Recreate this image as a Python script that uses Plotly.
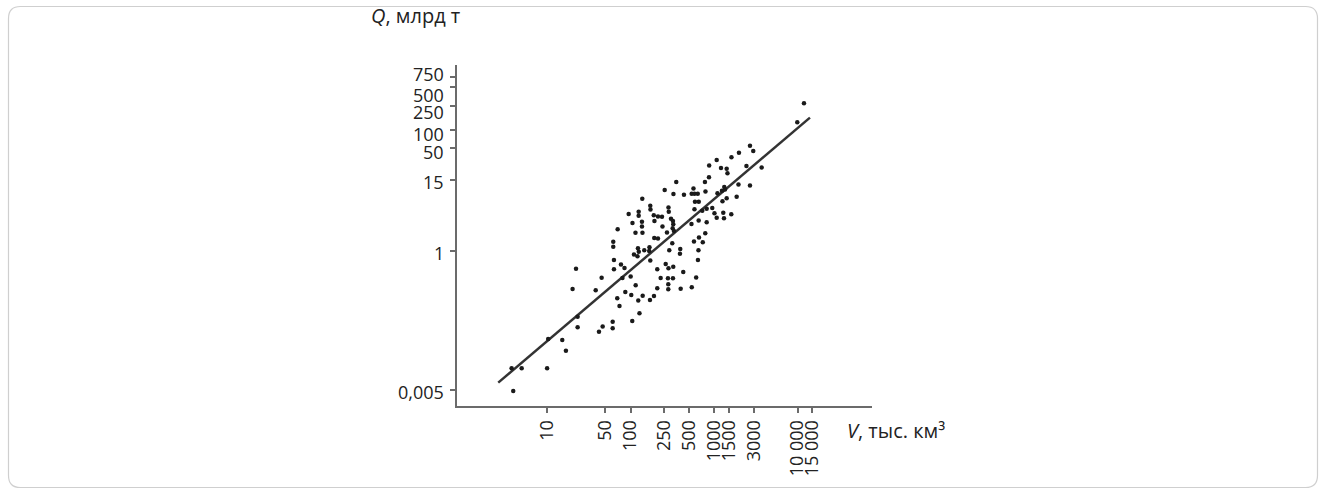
import math
import plotly.graph_objects as go

# Data (V, thousand km^3; Q, billion t)
volume_v = [3.93, 3.76, 4.96, 10.0, 10.3, 15.2, 16.8, 23.2, 23.2, 22.2, 20.2, 38.2, 45.0, 41.8, 46.3,
            61.0, 61.0, 62.0, 62.0, 63.2, 63.2, 69.2, 73.6, 70.0, 76.7, 84.5, 100.2, 79.9, 86.4, 101.9,
            104.7, 127.7, 123.5, 139.5, 170.6, 190.5, 115.0, 94.8, 124.9, 124.9, 138.0, 172.0, 173.0,
            189.5, 212.7, 237.5, 255.9, 284.1, 286.5, 304.4, 321.6, 324.3, 105.3, 136.8, 136.8, 193.1,
            240.8, 318.9, 330.6, 272.6, 114.4, 138.7, 192.1, 212.7, 315.5, 122.5, 125.3, 168.3, 166.9,
            145.8, 109.7, 120.9, 290.5, 393.3, 390.1, 649.7, 172.0, 640.8, 208.6, 263.0, 284.1, 324.3,
            427.3, 229.1, 280.2, 321.6, 282.6, 609.8, 208.6, 282.6, 397.7, 540.2, 352.3, 326.1, 435.6,
            538.7, 582.0, 637.3, 566.1, 788.0, 590.1, 655.2, 582.0, 721.8, 814.7, 951.0, 1010, 1074,
            1313, 1288, 1606, 535.8, 653.4, 814.7, 783.7, 658.8, 574.0, 731.8, 872.8, 1209, 1414, 1446,
            2441, 3713, 868.0, 777.3, 1097, 1242, 1324, 1958, 2689, 1863, 1414, 1260, 1074, 1614, 1985,
            2689, 2945, 9908, 11920, 1350]
reserves_q = [0.0048, 0.0114, 0.0114, 0.0114, 0.0347, 0.0334, 0.0222, 0.0811, 0.0542, 0.504, 0.233,
              0.2215, 0.358, 0.0458, 0.0559, 0.0671, 0.0522, 1.41, 1.16, 0.702, 0.493, 0.1634, 0.122,
              2.26, 0.591, 0.518, 0.375, 0.354, 0.2077, 0.1853, 0.0689, 0.0923, 0.1502, 0.1797, 0.1532,
              0.1783, 0.268, 4.04, 4.41, 3.78, 7.21, 5.54, 4.80, 3.86, 3.67, 3.65, 10.08, 5.18, 4.41,
              3.37, 3.10, 2.73, 2.87, 3.00, 2.51, 3.10, 2.51, 2.35, 2.12, 2.00, 1.98, 1.98, 1.62, 1.59,
              1.33, 1.10, 0.963, 1.14, 0.989, 1.015, 0.865, 0.808, 1.015, 1.067, 0.889, 1.019, 0.689,
              0.702, 0.493, 0.603, 0.512, 0.544, 0.445, 0.354, 0.350, 0.350, 0.278, 0.361, 0.239, 0.230,
              0.235, 0.248, 13.66, 8.65, 8.43, 8.75, 8.75, 8.75, 10.67, 9.52, 6.43, 6.43, 4.83, 4.58,
              4.95, 5.08, 4.15, 3.51, 3.43, 4.25, 4.00, 2.76, 3.16, 2.95, 1.94, 1.65, 1.42, 1.38, 25.6,
              23.3, 22.6, 19.0, 25.1, 23.7, 16.3, 13.66, 8.89, 9.77, 11.29, 12.43, 11.96, 7.81, 7.35,
              6.58, 31.6, 35.0, 41.7, 54.2, 44.5, 132.6, 273, 10.27]

# Regression line end points
fit_v = [2.6, 14060]
fit_q = [0.0066, 158]

x_ticks = [10, 50, 100, 250, 500, 1000, 1500, 3000, 10000, 15000]
x_tick_text = ["10", "50", "100", "250", "500", "1000", "1500", "3000", "10\u00a0000", "15\u00a0000"]
y_ticks = [0.005, 1, 15, 50, 100, 250, 500, 750]
y_tick_text = ["0,005", "1", "15", "50", "100", "250", "500", "750"]
# small vertical nudges of the crowded y labels (px, + = up)
y_label_shift = [-2, -2, -2, -4, -4, -6, -8, 3]

W, H = 1326, 494
L, R, T, B = 457, 872, 65, 406


def px(x):
    return (x - L) / (R - L)


def py(y):
    return (B - y) / (B - T)


fig = go.Figure()
fig.add_trace(go.Scatter(x=fit_v, y=fit_q, mode="lines",
                         line=dict(color="#333333", width=2.5), hoverinfo="skip", showlegend=False))
fig.add_trace(go.Scatter(x=volume_v, y=reserves_q, mode="markers",
                         marker=dict(color="#1a1a1a", size=4.5), showlegend=False))

axis_font = dict(family="Open Sans, sans-serif", size=18, color="#222222")
title_font = dict(family="Open Sans, sans-serif", size=20, color="#222222")

fig.update_xaxes(type="log", range=[-0.079, 4.891], showline=True, linecolor="#6b6b6b", linewidth=2,
                 ticks="outside", ticklen=5, tickwidth=2, tickcolor="#6b6b6b",
                 tickvals=x_ticks, ticktext=x_tick_text, tickangle=-90, tickfont=axis_font,
                 showgrid=False, zeroline=False)
fig.update_yaxes(type="log", range=[-2.567, 3.069], showline=True, linecolor="#6b6b6b", linewidth=2,
                 ticks="outside", ticklen=5, tickwidth=2, tickcolor="#6b6b6b",
                 tickvals=y_ticks, showticklabels=False,
                 showgrid=False, zeroline=False)

annotations = []
for v, t, s in zip(y_ticks, y_tick_text, y_label_shift):
    annotations.append(dict(text=t, x=px(446), y=math.log10(v), xref="paper", yref="y",
                            xanchor="right", yanchor="middle", yshift=s, showarrow=False,
                            font=axis_font))
annotations += [
    dict(text="<i>Q</i>, млрд т", x=px(369), y=py(16), xref="paper", yref="paper",
         xanchor="left", yanchor="middle", showarrow=False, font=title_font),
    dict(text="<i>V</i>, тыс. км³", x=px(845), y=py(430), xref="paper", yref="paper",
         xanchor="left", yanchor="middle", showarrow=False, font=title_font),
]

# rounded outer frame
x0, x1, y0, y1, r = 8.5, 1317.5, 6.5, 487.5, 12
path = (f"M {px(x0 + r)},{py(y0)} L {px(x1 - r)},{py(y0)} Q {px(x1)},{py(y0)} {px(x1)},{py(y0 + r)} "
        f"L {px(x1)},{py(y1 - r)} Q {px(x1)},{py(y1)} {px(x1 - r)},{py(y1)} "
        f"L {px(x0 + r)},{py(y1)} Q {px(x0)},{py(y1)} {px(x0)},{py(y1 - r)} "
        f"L {px(x0)},{py(y0 + r)} Q {px(x0)},{py(y0)} {px(x0 + r)},{py(y0)} Z")

fig.update_layout(
    width=W, height=H,
    margin=dict(l=L, r=W - R, t=T, b=H - B),
    paper_bgcolor="white", plot_bgcolor="white",
    shapes=[dict(type="path", path=path, xref="paper", yref="paper",
                 line=dict(color="#cfcfcf", width=1.2), layer="below")],
    annotations=annotations,
)

fig.write_html("out.html", config={"displayModeBar": False},
               post_script="document.body.style.margin='0';document.body.style.overflow='hidden';")
